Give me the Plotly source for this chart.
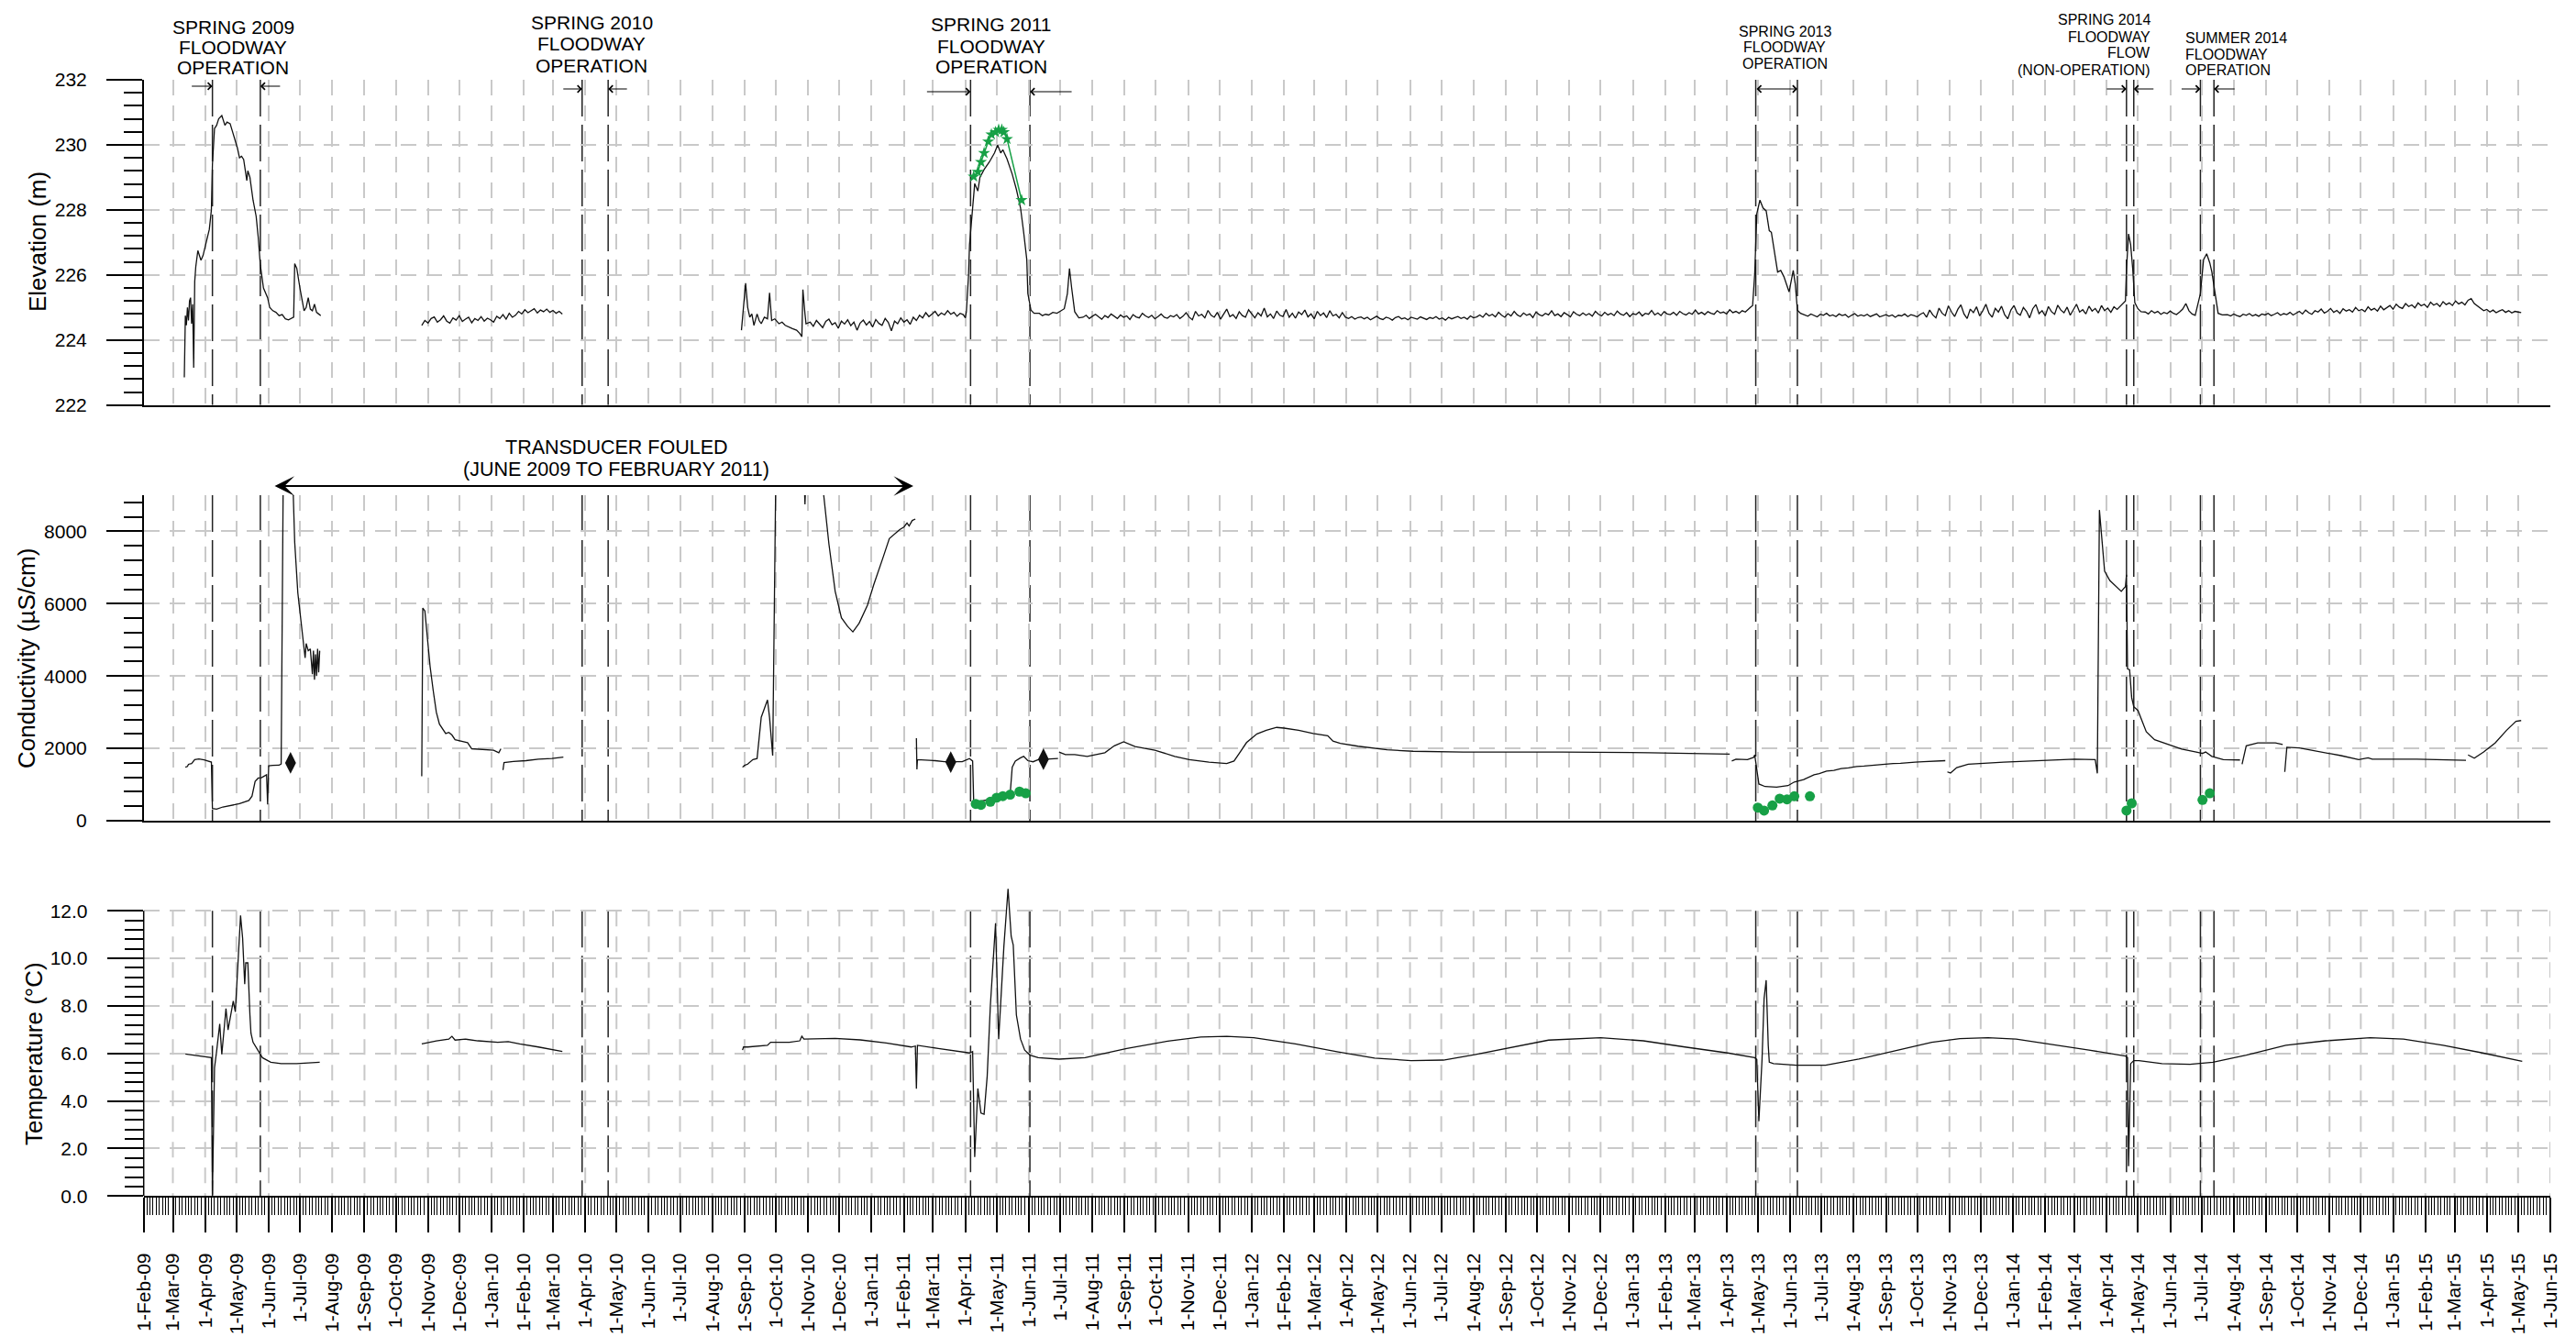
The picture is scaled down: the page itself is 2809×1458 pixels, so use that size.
import pandas as pd
import plotly.graph_objects as go

# ---------------------------------------------------------------- canvas
FIG_W, FIG_H = 2809, 1458
PLOT_L, PLOT_R = 156.7, 2781.0          # left / right edge of the plotting area (px)
FONT = "Liberation Sans, Arial, Helvetica, sans-serif"
INK = "#111111"
GREEN = "#17a046"
GRID = "#c9c9c9"
GRID_DASH = "17px,11px"
EVENT_DASH = "40px,9px"


def fx(p):
    return p / FIG_W


def fy(p):
    return 1.0 - p / FIG_H


# ---------------------------------------------------------------- floodway operation windows
event_starts = ["2009-04-08", "2010-03-29", "2011-04-06", "2013-04-29", "2014-04-20", "2014-06-30"]
event_ends = ["2009-05-24", "2010-04-23", "2011-06-02", "2013-06-08", "2014-04-27", "2014-07-13"]

# ---------------------------------------------------------------- elevation (m)
elev_2009_dates = ["2009-03-12", "2009-03-13", "2009-03-14", "2009-03-15", "2009-03-16", "2009-03-17",
                   "2009-03-18", "2009-03-19", "2009-03-20", "2009-03-21", "2009-03-22", "2009-03-23",
                   "2009-03-25", "2009-03-28", "2009-03-30", "2009-04-02", "2009-04-05", "2009-04-07",
                   "2009-04-08", "2009-04-10", "2009-04-12", "2009-04-14", "2009-04-17", "2009-04-20",
                   "2009-04-22", "2009-04-25", "2009-04-29", "2009-05-02", "2009-05-04", "2009-05-06",
                   "2009-05-08", "2009-05-11", "2009-05-12", "2009-05-14", "2009-05-17", "2009-05-20",
                   "2009-05-22", "2009-05-24", "2009-05-27", "2009-05-29", "2009-05-31", "2009-06-02",
                   "2009-06-05", "2009-06-08", "2009-06-11", "2009-06-14", "2009-06-17", "2009-06-20",
                   "2009-06-23", "2009-06-25", "2009-06-26", "2009-06-28", "2009-07-01", "2009-07-03",
                   "2009-07-05", "2009-07-07", "2009-07-09", "2009-07-11", "2009-07-13", "2009-07-15",
                   "2009-07-17", "2009-07-19", "2009-07-21"]
elev_2009 = [222.85, 224.75, 224.45, 225.0, 224.6, 225.2, 225.3, 224.5, 225.1, 223.15, 225.8, 226.25,
             226.75, 226.45, 226.6, 227.0, 227.4, 228.0, 229.4, 230.5, 230.6, 230.8, 230.9, 230.6,
             230.7, 230.65, 230.25, 229.9, 229.6, 229.65, 229.55, 228.9, 229.2, 229.0, 228.3, 227.8,
             227.15, 226.3, 225.6, 225.45, 225.3, 225.0, 224.9, 224.85, 224.75, 224.78, 224.65, 224.62,
             224.68, 224.7, 226.35, 226.2, 225.6, 225.3, 224.9, 225.0, 225.3, 224.95, 224.9, 225.1,
             224.85, 224.8, 224.75]

# logger readings every 3 days from 26-Oct-2009
elev_0910_start = "2009-10-26"
elev_0910 = [224.45, 224.60, 224.52, 224.66, 224.71, 224.55, 224.62, 224.74, 224.58, 224.52,
             224.68, 224.61, 224.75, 224.57, 224.64, 224.70, 224.53, 224.66, 224.60, 224.72,
             224.58, 224.67, 224.62, 224.55, 224.73, 224.66, 224.78, 224.64, 224.82, 224.70,
             224.76, 224.88, 224.80, 224.93, 224.84, 224.90, 224.96, 224.83, 224.92, 224.87,
             224.95, 224.85, 224.91, 224.82, 224.88, 224.80]

elev_fall10_dates = ["2010-08-29", "2010-09-02", "2010-09-04", "2010-09-06", "2010-09-08", "2010-09-10",
                     "2010-09-13", "2010-09-15", "2010-09-17", "2010-09-20", "2010-09-23", "2010-09-25",
                     "2010-09-27", "2010-09-30", "2010-10-04", "2010-10-07", "2010-10-10", "2010-10-13",
                     "2010-10-17", "2010-10-21", "2010-10-24", "2010-10-26", "2010-10-27", "2010-10-29",
                     "2010-10-30"]
elev_fall10 = [224.3, 225.75, 225.0, 224.7, 224.8, 224.45, 224.8, 224.6, 224.5, 224.7, 224.65, 225.45,
               224.6, 224.65, 224.5, 224.55, 224.45, 224.4, 224.35, 224.3, 224.2, 224.1, 225.55, 224.8,
               224.5]

elev_1011_start = "2010-11-03"       # every 3 days
elev_1011 = [224.55, 224.42, 224.60, 224.50, 224.38, 224.57, 224.64, 224.47, 224.53, 224.36,
             224.58, 224.49, 224.62, 224.44, 224.55, 224.30, 224.52, 224.61, 224.46, 224.57,
             224.40, 224.63, 224.51, 224.45, 224.66, 224.54, 224.28, 224.58, 224.50, 224.68,
             224.55, 224.62, 224.48, 224.70, 224.60, 224.76, 224.68, 224.84, 224.72, 224.80,
             224.88, 224.74, 224.83, 224.77, 224.90, 224.79, 224.85, 224.73, 224.82, 224.78]

elev_sp11_dates = ["2011-04-01", "2011-04-02", "2011-04-04", "2011-04-05", "2011-04-08", "2011-04-10",
                   "2011-04-13", "2011-04-15", "2011-04-19", "2011-04-24", "2011-04-29", "2011-05-02",
                   "2011-05-05", "2011-05-07", "2011-05-11", "2011-05-16", "2011-05-20", "2011-05-24",
                   "2011-05-27", "2011-05-30", "2011-05-31", "2011-06-03", "2011-06-06", "2011-06-11",
                   "2011-06-14", "2011-06-17", "2011-06-20", "2011-06-24", "2011-06-28", "2011-07-01",
                   "2011-07-05", "2011-07-08", "2011-07-10", "2011-07-12", "2011-07-15", "2011-07-19"]
elev_sp11 = [224.68, 224.87, 225.95, 226.93, 228.06, 228.81, 228.58, 229.0, 229.24, 229.47, 229.75, 229.99,
             229.75, 229.85, 229.57, 229.1, 228.63, 228.06, 227.31, 226.47, 225.43, 224.92, 224.82, 224.82,
             224.75, 224.79, 224.77, 224.85, 224.82, 224.87, 224.96, 225.43, 226.2, 225.62, 224.87, 224.68]

elev_1113_start = "2011-07-23"       # every 3 days
elev_1113 = [224.70, 224.76, 224.66, 224.73, 224.79, 224.71, 224.64, 224.75, 224.69, 224.80,
             224.72, 224.66, 224.77, 224.70, 224.74, 224.63, 224.78, 224.71, 224.68, 224.82,
             224.74, 224.69, 224.76, 224.65, 224.72, 224.80, 224.70, 224.67, 224.75, 224.71,
             224.78, 224.66, 224.73, 224.84, 224.70, 224.62, 224.88, 224.74, 224.79, 224.68,
             224.91, 224.76, 224.70, 224.85, 224.64, 224.80, 224.95, 224.72, 224.78, 224.66,
             224.87, 224.75, 224.70, 224.93, 224.79, 224.68, 224.84, 224.74, 224.98, 224.71,
             224.80, 224.66, 224.89, 224.76, 224.72, 224.94, 224.70, 224.82, 224.67, 224.86,
             224.78, 224.92, 224.71, 224.80, 224.65, 224.88, 224.75, 224.83, 224.69, 224.90,
             224.74, 224.79, 224.68, 224.84, 224.70, 224.66, 224.72, 224.64, 224.69, 224.71,
             224.65, 224.70, 224.62, 224.68, 224.73, 224.66, 224.63, 224.70, 224.67, 224.61,
             224.69, 224.72, 224.65, 224.68, 224.62, 224.70, 224.66, 224.64, 224.71, 224.67,
             224.63, 224.69, 224.66, 224.72, 224.64, 224.68, 224.61, 224.70, 224.65, 224.69,
             224.72, 224.66, 224.70, 224.64, 224.74, 224.68, 224.71, 224.77, 224.70, 224.82,
             224.74, 224.79, 224.71, 224.85, 224.76, 224.70, 224.81, 224.74, 224.88, 224.77,
             224.72, 224.83, 224.76, 224.80, 224.69, 224.86, 224.78, 224.74, 224.82, 224.77,
             224.90, 224.75, 224.80, 224.72, 224.84, 224.78, 224.71, 224.87, 224.79, 224.75,
             224.83, 224.76, 224.81, 224.73, 224.88, 224.79, 224.74, 224.85, 224.77, 224.82,
             224.75, 224.89, 224.80, 224.76, 224.84, 224.72, 224.81, 224.78, 224.86, 224.74,
             224.82, 224.79, 224.91, 224.77, 224.83, 224.75, 224.87, 224.80, 224.78, 224.85,
             224.76, 224.88, 224.81, 224.77, 224.84, 224.79, 224.92, 224.80, 224.85, 224.78,
             224.87, 224.82, 224.79, 224.90, 224.83, 224.86, 224.80, 224.93, 224.84, 224.88,
             224.82, 224.90, 224.86]

elev_sp13_dates = ["2013-04-24", "2013-04-26", "2013-04-28", "2013-04-30", "2013-05-03", "2013-05-06",
                   "2013-05-09", "2013-05-12", "2013-05-14", "2013-05-17", "2013-05-20", "2013-05-23",
                   "2013-05-26", "2013-05-31", "2013-06-04", "2013-06-06", "2013-06-08", "2013-06-11"]
elev_sp13 = [225.01, 225.06, 226.04, 227.88, 228.3, 228.06, 227.97, 227.36, 227.31, 226.75, 226.09, 226.14,
             225.95, 225.48, 226.14, 225.71, 224.92, 224.82]

elev_1314_start = "2013-06-15"       # every 3 days
elev_1314 = [224.78, 224.73, 224.80, 224.75, 224.71, 224.79, 224.76, 224.82, 224.74, 224.77,
             224.72, 224.80, 224.75, 224.78, 224.70, 224.76, 224.81, 224.73, 224.77, 224.74,
             224.79, 224.72, 224.76, 224.80, 224.71, 224.75, 224.78, 224.73, 224.77, 224.70,
             224.76, 224.74, 224.80, 224.72, 224.78, 224.75, 224.71, 224.79, 224.84, 224.70,
             224.92, 224.77, 224.68, 224.98, 224.82, 224.75, 225.05, 224.86, 224.72, 224.94,
             225.08, 224.80, 224.66, 224.95, 224.84, 225.02, 224.74, 224.90, 225.10, 224.82,
             224.70, 224.97, 224.86, 225.04, 224.78, 224.65, 224.92, 225.06, 224.83, 224.76,
             225.00, 224.88, 224.68, 224.96, 225.09, 224.81, 224.90, 224.74, 225.03, 224.87,
             224.79, 225.07, 224.92, 224.84, 225.01, 224.76, 224.95, 225.10, 224.86, 224.93,
             224.80, 225.04, 224.89, 224.97, 224.83, 225.06, 224.90, 224.98, 224.85, 225.02,
             224.94]

elev_sp14_dates = ["2014-04-16", "2014-04-19", "2014-04-20", "2014-04-22", "2014-04-24", "2014-04-26",
                   "2014-04-28", "2014-05-01", "2014-05-04"]
elev_sp14 = [225.1, 225.2, 226.18, 227.26, 226.93, 226.18, 225.15, 224.96, 224.87]

elev_jun14_start = "2014-05-08"      # every 3 days
elev_jun14 = [224.86, 224.80, 224.90, 224.83, 224.88, 224.79, 224.85, 224.81, 224.89, 224.82, 224.78,
              224.86, 224.95, 225.12, 224.90, 224.80, 224.76]

elev_su14_dates = ["2014-06-30", "2014-07-03", "2014-07-06", "2014-07-09", "2014-07-11", "2014-07-14",
                   "2014-07-17", "2014-07-21"]
elev_su14 = [225.43, 226.47, 226.65, 226.37, 226.09, 225.43, 224.82, 224.77]

elev_1415_start = "2014-07-26"       # every 3 days
elev_1415 = [224.78, 224.74, 224.80, 224.75, 224.72, 224.79, 224.76, 224.81, 224.74, 224.78,
             224.73, 224.80, 224.77, 224.82, 224.75, 224.79, 224.84, 224.76, 224.81, 224.78,
             224.85, 224.77, 224.82, 224.88, 224.80, 224.92, 224.84, 224.79, 224.90, 224.86,
             224.95, 224.83, 224.88, 224.97, 224.85, 224.91, 224.82, 224.96, 224.89, 224.93,
             224.86, 225.00, 224.90, 224.94, 224.87, 225.02, 224.92, 224.97, 224.89, 225.04,
             224.93, 224.99, 225.06, 224.95, 225.10, 225.01, 224.97, 225.12, 225.03, 225.08,
             224.99, 225.14, 225.05, 225.10, 225.00, 225.16, 225.07, 225.12, 225.03, 225.18,
             225.09, 225.14, 225.06, 225.20, 225.11, 225.16, 225.08, 225.22, 225.27, 225.12,
             225.04, 224.96, 224.90, 224.94, 224.86, 224.92, 224.84, 224.89, 224.93, 224.85,
             224.90, 224.83, 224.88, 224.86, 224.84]

# manual water-level measurements, spring 2011
manual_elev_dates = ["2011-04-09", "2011-04-13", "2011-04-16", "2011-04-19", "2011-04-23", "2011-04-26",
                     "2011-04-30", "2011-05-03", "2011-05-06", "2011-05-08", "2011-05-11", "2011-05-25"]
manual_elev = [229.02, 229.17, 229.47, 229.75, 230.1, 230.32, 230.39, 230.46, 230.46, 230.39, 230.18, 228.3]

# ---------------------------------------------------------------- conductivity (uS/cm)
cond_09_dates = ["2009-03-13", "2009-03-15", "2009-03-16", "2009-03-19", "2009-03-22", "2009-03-26",
                 "2009-03-31", "2009-04-05", "2009-04-07", "2009-04-08", "2009-04-12", "2009-04-18",
                 "2009-04-25", "2009-05-04", "2009-05-13", "2009-05-16", "2009-05-19", "2009-05-22",
                 "2009-05-25", "2009-05-28", "2009-05-30", "2009-05-31", "2009-06-01", "2009-06-05",
                 "2009-06-11", "2009-06-13", "2009-06-15", "2009-06-24", "2009-06-25", "2009-06-26",
                 "2009-06-29", "2009-07-01", "2009-07-04", "2009-07-06", "2009-07-07", "2009-07-09",
                 "2009-07-11", "2009-07-13", "2009-07-14", "2009-07-15", "2009-07-16", "2009-07-17",
                 "2009-07-18", "2009-07-19", "2009-07-20"]
cond_09 = [1480, 1500, 1560, 1580, 1690, 1710, 1680, 1640, 1620, 340,
           320, 380, 420, 470, 560, 680, 1090, 1180, 1190, 1250,
           1270, 450, 1520, 1530, 1535, 1570, 9600, 9600, 8200, 7700,
           6300, 5800, 5100, 4500, 4900, 4700, 4750, 4050, 4700, 3900,
           4600, 4000, 4750, 4100, 4700]

cond_0910_dates = ["2009-10-26", "2009-10-27", "2009-10-29", "2009-11-01", "2009-11-03", "2009-11-06",
                   "2009-11-09", "2009-11-12", "2009-11-18", "2009-11-21", "2009-11-24", "2009-11-27",
                   "2009-12-03", "2009-12-09", "2009-12-13", "2009-12-22", "2010-01-03", "2010-01-08",
                   "2010-01-10"]
cond_0910 = [1230, 5880, 5800, 4780, 4270, 3600, 3000, 2670, 2410, 2440, 2370, 2240, 2200, 2160, 1990,
             1975, 1950, 1880, 1990]

cond_10_dates = ["2010-01-12", "2010-01-13", "2010-01-22", "2010-02-03", "2010-02-15", "2010-02-28", "2010-03-11"]
cond_10 = [1400, 1610, 1640, 1660, 1700, 1720, 1760]

cond_1011_dates = ["2010-08-30", "2010-09-01", "2010-09-04", "2010-09-09", "2010-09-13", "2010-09-17",
                   "2010-09-20", "2010-09-23", "2010-09-25", "2010-09-28", "2010-10-01", "2010-10-28",
                   "2010-10-29", "2010-10-30", "2010-11-15", "2010-11-16", "2010-11-21", "2010-11-27",
                   "2010-12-03", "2010-12-09", "2010-12-14", "2010-12-20", "2010-12-28", "2011-01-03",
                   "2011-01-12", "2011-01-18", "2011-01-28", "2011-02-01", "2011-02-04", "2011-02-06",
                   "2011-02-09", "2011-02-12"]
cond_1011 = [1480, 1530, 1565, 1690, 1720, 2860, 3100, 3340, 2850, 1800, 9600, 9600,
             8750, 9600, 9600, 9000, 7650, 6340, 5610, 5370, 5220, 5460, 5960, 6520,
             7280, 7800, 8050, 8120, 8230, 8150, 8300, 8340]

cond_11_dates = ["2011-02-13 00:00", "2011-02-13 12:00", "2011-02-14", "2011-03-03", "2011-03-12",
                 "2011-03-29", "2011-04-03", "2011-04-05", "2011-04-08", "2011-04-09", "2011-04-13",
                 "2011-04-25", "2011-05-07", "2011-05-14", "2011-05-16", "2011-05-19", "2011-05-24",
                 "2011-05-27", "2011-05-31", "2011-06-05", "2011-06-10", "2011-06-21", "2011-06-29"]
cond_11 = [2280, 1420, 1690, 1660, 1630, 1630, 1690, 1720, 1650, 560, 520, 600, 640, 720, 1480, 1650,
           1740, 1780, 1660, 1630, 1690, 1710, 1720]

cond_1113_dates = ["2011-06-30", "2011-07-06", "2011-07-15", "2011-07-27", "2011-08-13", "2011-08-22",
                   "2011-08-31", "2011-09-11", "2011-09-30", "2011-10-19", "2011-11-02", "2011-11-21",
                   "2011-12-08", "2011-12-15", "2011-12-20", "2011-12-27", "2012-01-06", "2012-01-15",
                   "2012-01-25", "2012-02-01", "2012-02-15", "2012-02-29", "2012-03-14", "2012-03-19",
                   "2012-03-26", "2012-04-12", "2012-05-10", "2012-06-04", "2012-07-22", "2012-10-25",
                   "2013-01-17", "2013-03-02", "2013-04-04"]
cond_1113 = [1900, 1830, 1830, 1780, 1880, 2070, 2180, 2050, 1950, 1780, 1690, 1620, 1580, 1650, 1860,
             2160, 2400, 2500, 2580, 2560, 2500, 2410, 2350, 2200, 2140, 2060, 1960, 1920, 1900, 1900,
             1880, 1860, 1840]

cond_13_dates = ["2013-04-06", "2013-04-10", "2013-04-21", "2013-04-27", "2013-04-28", "2013-05-02",
                 "2013-05-08", "2013-05-19", "2013-05-30", "2013-06-05", "2013-06-14", "2013-06-19",
                 "2013-06-24", "2013-06-29", "2013-07-06", "2013-07-13", "2013-07-20", "2013-07-27",
                 "2013-08-04", "2013-08-11", "2013-08-18", "2013-08-25", "2013-09-01", "2013-09-08",
                 "2013-09-15", "2013-09-22", "2013-09-29", "2013-10-07", "2013-10-14", "2013-10-21",
                 "2013-10-28"]
cond_13 = [1650, 1700, 1690, 1750, 1820, 1015, 945, 930, 970, 1070, 1140, 1210, 1270, 1300, 1370, 1390,
           1440, 1460, 1500, 1510, 1530, 1550, 1560, 1580, 1590, 1610, 1620, 1630, 1640, 1650, 1660]

cond_1314_dates = ["2013-10-30", "2013-11-02", "2013-11-08", "2013-11-19", "2013-12-23", "2014-02-07",
                   "2014-03-01", "2014-03-21", "2014-03-23", "2014-03-25", "2014-03-27", "2014-03-30",
                   "2014-04-04", "2014-04-10", "2014-04-15", "2014-04-19", "2014-04-20", "2014-04-21",
                   "2014-04-23", "2014-04-25", "2014-04-27", "2014-05-01", "2014-05-09", "2014-05-17",
                   "2014-05-31", "2014-06-12", "2014-06-26", "2014-07-02", "2014-07-05", "2014-07-11",
                   "2014-07-22", "2014-08-07"]
cond_1314 = [1350, 1320, 1470, 1560, 1620, 1680, 1700, 1690, 1310, 8590, 7830, 6900, 6640, 6470, 6340,
             6470, 6800, 4200, 4170, 3400, 3150, 3050, 2460, 2240, 2110, 1980, 1900, 1860, 1900, 1780,
             1690, 1680]

cond_aug14_dates = ["2014-08-09", "2014-08-13", "2014-08-24", "2014-09-10", "2014-09-17"]
cond_aug14 = [1560, 2070, 2150, 2150, 2110]

cond_1415_dates = ["2014-09-19", "2014-09-21", "2014-10-03", "2014-10-20", "2014-11-12", "2014-11-29",
                   "2014-12-08", "2014-12-12", "2015-01-24", "2015-03-12"]
cond_1415 = [1350, 2030, 2010, 1920, 1800, 1690, 1740, 1700, 1700, 1670]

cond_15_dates = ["2015-03-14", "2015-03-20", "2015-03-29", "2015-04-09", "2015-04-20", "2015-04-29", "2015-05-04"]
cond_15 = [1820, 1730, 1900, 2150, 2500, 2750, 2770]

# grab samples during floodway operation
grab_dates = ["2011-04-11", "2011-04-16", "2011-04-25", "2011-05-01", "2011-05-07", "2011-05-14",
              "2011-05-23", "2011-05-29", "2013-05-01", "2013-05-07", "2013-05-15", "2013-05-22",
              "2013-05-29", "2013-06-05", "2013-06-20", "2014-04-20", "2014-04-25", "2014-07-02",
              "2014-07-09"]
grab_cond = [465, 440, 525, 635, 680, 720, 805, 760, 364, 280, 423, 609, 592, 677, 677, 280, 482, 575, 760]

# field-meter checks
check_dates = ["2009-06-22", "2011-03-18", "2011-06-15"]
check_cond = [1600, 1620, 1700]

# ---------------------------------------------------------------- temperature (deg C)
temp_09_dates = ["2009-03-13", "2009-03-20", "2009-03-27", "2009-04-03", "2009-04-07", "2009-04-08",
                 "2009-04-10", "2009-04-12", "2009-04-15", "2009-04-17", "2009-04-19", "2009-04-21",
                 "2009-04-23", "2009-04-25", "2009-04-28", "2009-04-30", "2009-05-03", "2009-05-05",
                 "2009-05-07", "2009-05-09", "2009-05-10", "2009-05-12", "2009-05-14", "2009-05-15",
                 "2009-05-17", "2009-05-22", "2009-05-26", "2009-06-03", "2009-06-13", "2009-06-28",
                 "2009-07-11", "2009-07-20"]
temp_09 = [5.98, 5.93, 5.88, 5.82, 5.82, 0.05, 5.4, 6.08, 7.24, 5.96, 6.86, 7.89, 6.99, 7.5, 8.2, 7.75,
           10.2, 11.8, 10.84, 8.91, 9.81, 9.81, 7.62, 6.85, 6.47, 6.08, 5.82, 5.63, 5.57, 5.57, 5.59, 5.63]

temp_0910_dates = ["2009-10-26", "2009-11-09", "2009-11-21", "2009-11-24", "2009-11-27", "2009-12-07",
                   "2009-12-19", "2010-01-07", "2010-01-17", "2010-01-28", "2010-02-15", "2010-03-10"]
temp_0910 = [6.4, 6.53, 6.6, 6.72, 6.56, 6.6, 6.53, 6.47, 6.5, 6.4, 6.27, 6.08]

temp_1015_dates = ["2010-08-30", "2010-08-31", "2010-09-04", "2010-09-23", "2010-09-26", "2010-10-14",
                   "2010-10-24", "2010-10-26", "2010-10-28", "2010-11-27", "2010-12-21", "2011-01-15",
                   "2011-02-08", "2011-02-12", "2011-02-13", "2011-02-14", "2011-03-06", "2011-03-31",
                   "2011-04-05", "2011-04-08", "2011-04-10", "2011-04-13", "2011-04-16", "2011-04-19",
                   "2011-04-22", "2011-04-25", "2011-04-30", "2011-05-03", "2011-05-08", "2011-05-12",
                   "2011-05-15", "2011-05-17", "2011-05-20", "2011-05-24", "2011-05-28", "2011-06-02",
                   "2011-06-10", "2011-06-30", "2011-07-25", "2011-09-03", "2011-10-14", "2011-11-13",
                   "2011-12-08", "2012-01-03", "2012-02-12", "2012-03-24", "2012-04-28", "2012-06-02",
                   "2012-07-03", "2012-08-02", "2012-09-01", "2012-10-12", "2012-12-01", "2013-01-11",
                   "2013-02-20", "2013-04-02", "2013-04-28", "2013-04-30", "2013-05-02", "2013-05-05",
                   "2013-05-07", "2013-05-09", "2013-05-11", "2013-05-12", "2013-05-16", "2013-06-07",
                   "2013-07-05", "2013-08-06", "2013-09-07", "2013-10-15", "2013-11-11", "2013-12-08",
                   "2014-01-04", "2014-02-05", "2014-03-15", "2014-04-19", "2014-04-21", "2014-04-22",
                   "2014-04-24", "2014-04-27", "2014-05-02", "2014-05-24", "2014-06-20", "2014-07-12",
                   "2014-08-13", "2014-09-20", "2014-10-28", "2014-12-10", "2015-01-11", "2015-02-18",
                   "2015-03-28", "2015-05-05"]
temp_1015 = [6.14, 6.27, 6.27, 6.34, 6.47, 6.47, 6.53, 6.72, 6.6, 6.63, 6.57, 6.44,
             6.27, 6.31, 4.52, 6.34, 6.21, 6.06, 6.02, 6.08, 1.64, 4.52, 3.49, 3.44,
             5.05, 8.0, 11.48, 6.6, 10.5, 12.92, 10.93, 10.56, 7.62, 6.6, 6.14, 5.93,
             5.82, 5.76, 5.82, 6.21, 6.53, 6.69, 6.72, 6.66, 6.4, 6.06, 5.8, 5.7,
             5.72, 5.95, 6.21, 6.56, 6.66, 6.53, 6.27, 6.02, 5.82, 5.75, 3.15, 5.7,
             8.3, 9.08, 6.34, 5.63, 5.57, 5.5, 5.5, 5.76, 6.08, 6.47, 6.62, 6.66,
             6.6, 6.4, 6.14, 5.89, 5.82, 1.26, 5.57, 5.7, 5.7, 5.57, 5.54, 5.63,
             5.93, 6.34, 6.53, 6.66, 6.6, 6.34, 6.02, 5.67]

# ---------------------------------------------------------------- axis ticks
temp_ticks = [0, 2, 4, 6, 8, 10, 12]
x_start, x_end = "2009-02-01", "2015-06-01"


# ---------------------------------------------------------------- helpers
def regular(start, step_days, values):
    dates = pd.date_range(start, periods=len(values), freq=f"{step_days}D")
    return [d.strftime("%Y-%m-%d") for d in dates], list(values)


def chain(*parts):
    xs, ys = [], []
    for d, v in parts:
        assert len(d) == len(v), (len(d), len(v))
        xs += list(d)
        ys += list(v)
    return xs, ys


def with_gaps(*parts):
    xs, ys = [], []
    for i, (d, v) in enumerate(parts):
        assert len(d) == len(v), (len(d), len(v))
        if i:
            xs.append(None)
            ys.append(None)
        xs += list(d)
        ys += list(v)
    return xs, ys


elev_x, elev_y = with_gaps(
    (elev_2009_dates, elev_2009),
    regular(elev_0910_start, 3, elev_0910),
    chain((elev_fall10_dates, elev_fall10),
          regular(elev_1011_start, 3, elev_1011),
          (elev_sp11_dates, elev_sp11),
          regular(elev_1113_start, 3, elev_1113),
          (elev_sp13_dates, elev_sp13),
          regular(elev_1314_start, 3, elev_1314),
          (elev_sp14_dates, elev_sp14),
          regular(elev_jun14_start, 3, elev_jun14),
          (elev_su14_dates, elev_su14),
          regular(elev_1415_start, 3, elev_1415)),
)

cond_x, cond_y = with_gaps(
    (cond_09_dates, cond_09), (cond_0910_dates, cond_0910), (cond_10_dates, cond_10),
    (cond_1011_dates, cond_1011), (cond_11_dates, cond_11), (cond_1113_dates, cond_1113),
    (cond_13_dates, cond_13), (cond_1314_dates, cond_1314), (cond_aug14_dates, cond_aug14),
    (cond_1415_dates, cond_1415), (cond_15_dates, cond_15),
)

temp_x, temp_y = with_gaps(
    (temp_09_dates, temp_09), (temp_0910_dates, temp_0910), (temp_1015_dates, temp_1015),
)

# ---------------------------------------------------------------- figure
fig = go.Figure()
line_style = dict(color=INK, width=1.3)

fig.add_trace(go.Scatter(x=elev_x, y=elev_y, mode="lines", line=line_style,
                         connectgaps=False, xaxis="x", yaxis="y", hoverinfo="skip"))
fig.add_trace(go.Scatter(x=manual_elev_dates, y=manual_elev, mode="lines+markers",
                         line=dict(color=GREEN, width=1.5),
                         marker=dict(symbol="star", size=10, color=GREEN),
                         xaxis="x", yaxis="y", hoverinfo="skip"))

fig.add_trace(go.Scatter(x=cond_x, y=cond_y, mode="lines", line=line_style,
                         connectgaps=False, xaxis="x2", yaxis="y2", hoverinfo="skip"))
fig.add_trace(go.Scatter(x=grab_dates, y=grab_cond, mode="markers",
                         marker=dict(symbol="circle", size=11, color=GREEN),
                         xaxis="x2", yaxis="y2", hoverinfo="skip"))
fig.add_trace(go.Scatter(x=check_dates, y=check_cond, mode="markers",
                         marker=dict(symbol="diamond-tall", size=17, color=INK),
                         xaxis="x2", yaxis="y2", hoverinfo="skip"))

fig.add_trace(go.Scatter(x=temp_x, y=temp_y, mode="lines", line=line_style,
                         connectgaps=False, xaxis="x3", yaxis="y3", hoverinfo="skip"))

# ---------------------------------------------------------------- axes
x_dom = [fx(PLOT_L), fx(PLOT_R)]
TOP = (87.0, 441.7)
MID = (540.0, 895.0)
BOT = (964.7, 1304.3)

base_x = dict(type="date", range=[x_start, x_end], domain=x_dom, tickmode="linear",
              tick0=x_start, dtick="M1", showgrid=True, gridcolor=GRID, gridwidth=2,
              griddash=GRID_DASH, showline=True, linecolor="black", linewidth=1.5,
              zeroline=False, fixedrange=True, automargin=False)

minor_x = []
for m in pd.date_range(x_start, "2015-05-01", freq="MS"):
    for d in range(3, m.days_in_month - 2, 3):
        minor_x.append((m + pd.Timedelta(days=d)).strftime("%Y-%m-%d"))

base_y = dict(ticks="outside", ticklen=39, tickwidth=1.5, tickcolor="black",
              showgrid=True, gridcolor=GRID, gridwidth=2, griddash=GRID_DASH,
              zeroline=False, tickfont=dict(size=21), ticklabelstandoff=17, fixedrange=True,
              automargin=False)
minor_y = dict(ticks="outside", ticklen=20, tickwidth=1.5, tickcolor="black", showgrid=False)

temp_minor = [round(0.4 * i, 1) for i in range(1, 30) if i % 5]

fig.update_layout(
    width=FIG_W, height=FIG_H, autosize=False,
    margin=dict(l=0, r=0, t=0, b=0, autoexpand=False),
    paper_bgcolor="white", plot_bgcolor="white",
    showlegend=False,
    font=dict(family=FONT, color="black", size=21),
    xaxis=dict(base_x, anchor="y", ticks="", showticklabels=False),
    xaxis2=dict(base_x, anchor="y2", ticks="", showticklabels=False),
    xaxis3=dict(base_x, anchor="y3", showgrid=False, ticks="outside", ticklen=38,
                tickwidth=1.5, tickcolor="black", tickangle=-90, tickformat="%-d-%b-%y",
                tickfont=dict(size=21), ticklabelstandoff=14,
                minor=dict(tickmode="array", tickvals=minor_x, ticks="outside", ticklen=19,
                           tickwidth=1.2, tickcolor="black", showgrid=False)),
    yaxis=dict(base_y, domain=[fy(TOP[1]), fy(TOP[0])], anchor="x", range=[222, 232],
               tickmode="linear", tick0=222, dtick=2, showline=True, linecolor="black", linewidth=1.5,
               minor=dict(minor_y, tickmode="linear", tick0=222, dtick=0.4)),
    yaxis2=dict(base_y, domain=[fy(MID[1]), fy(MID[0])], anchor="x2", range=[0, 9000],
                tickmode="linear", tick0=0, dtick=2000, showline=True, linecolor="black", linewidth=1.5,
                minor=dict(minor_y, tickmode="linear", tick0=0, dtick=400)),
    yaxis3=dict(base_y, domain=[fy(BOT[1]), fy(BOT[0])], anchor="x3", range=[0, 13.1],
                tickmode="array", tickvals=temp_ticks, tickformat=".1f", showline=False,
                minor=dict(minor_y, tickmode="array", tickvals=temp_minor)),
)

shapes = []
# month grid of the temperature panel stops at the 12.0 line
for m in pd.date_range("2009-03-01", x_end, freq="MS"):
    shapes.append(dict(type="line", xref="x3", yref="y3", x0=m, x1=m, y0=12, y1=0,
                       line=dict(color=GRID, width=2, dash=GRID_DASH), layer="below"))
shapes.append(dict(type="line", xref="paper", yref="y3", x0=fx(PLOT_L), x1=fx(PLOT_L), y0=0, y1=12,
                   line=dict(color="black", width=1.5)))

# floodway operation boundaries in every panel
for d in event_starts + event_ends:
    for xr, yr, top, bottom in (("x", "y", 232, 222), ("x2", "y2", 9000, 0), ("x3", "y3", 12, 0)):
        shapes.append(dict(type="line", xref=xr, yref=yr, x0=d, x1=d, y0=top, y1=bottom,
                           line=dict(color="#222222", width=1.5, dash=EVENT_DASH), layer="below"))
fig.update_layout(shapes=shapes)

# ---------------------------------------------------------------- annotations
ann = []


def text_line(txt, x, y, size, anchor="center"):
    ann.append(dict(text=txt, xref="paper", yref="paper", x=fx(x), y=fy(y), xanchor=anchor,
                    yanchor="middle", showarrow=False, font=dict(family=FONT, size=size, color="black")))


def arrow(date, y, dx):
    ann.append(dict(text="", xref="x", yref="paper", x=date, y=fy(y), ax=dx, ay=0,
                    showarrow=True, arrowhead=4, arrowsize=1.25, arrowwidth=1.2, arrowcolor="black",
                    standoff=0))


for t, yy in zip(["SPRING 2009", "FLOODWAY", "OPERATION"], [29, 51.5, 74]):
    text_line(t, 254, yy, 21)
for t, yy in zip(["SPRING 2010", "FLOODWAY", "OPERATION"], [24, 47.5, 71]):
    text_line(t, 645, yy, 21)
for t, yy in zip(["SPRING 2011", "FLOODWAY", "OPERATION"], [27, 50, 73]):
    text_line(t, 1081, yy, 21)
for t, yy in zip(["SPRING 2013", "FLOODWAY", "OPERATION"], [34.5, 51.5, 69.5]):
    text_line(t, 1946, yy, 16)
for t, yy in zip(["SPRING 2014", "FLOODWAY", "FLOW", "(NON-OPERATION)"], [22, 40, 57.5, 76]):
    text_line(t, 2347, yy, 16, anchor="right")
for t, yy in zip(["SUMMER 2014", "FLOODWAY", "OPERATION"], [41, 59, 76]):
    text_line(t, 2381, yy, 16, anchor="left")

arrow(event_starts[0], 94, -24)
arrow(event_ends[0], 94, 23)
arrow(event_starts[1], 97, -22)
arrow(event_ends[1], 97, 22)
arrow(event_starts[2], 100, -49)
arrow(event_ends[2], 100, 47)
arrow(event_starts[4], 97, -23)
arrow(event_ends[4], 97, 23)
arrow(event_starts[5], 97, -22)
arrow(event_ends[5], 97, 24)
ann.append(dict(text="", xref="x", yref="paper", x=event_ends[3], y=fy(97), ax=-46, ay=0,
                showarrow=True, arrowside="end+start", arrowhead=4, startarrowhead=4,
                arrowsize=1.25, startarrowsize=1.25, arrowwidth=1.2, arrowcolor="black",
                standoff=0, startstandoff=0))

# sensor-fouling period on the conductivity record
text_line("TRANSDUCER FOULED", 672, 488, 21.5)
text_line("(JUNE 2009 TO FEBRUARY 2011)", 672, 512, 21.5)
ann.append(dict(text="", xref="paper", yref="paper", x=fx(996), y=fy(530), ax=-698, ay=0,
                showarrow=True, arrowside="end+start", arrowhead=3, startarrowhead=3,
                arrowsize=1.8, startarrowsize=1.8, arrowwidth=2, arrowcolor="black",
                standoff=0, startstandoff=0))

# y-axis titles
for txt, xx, yy in (("Elevation (m)", 41, 264), ("Conductivity (\u00b5S/cm)", 29, 718),
                    ("Temperature (\u00b0C)", 37, 1149)):
    ann.append(dict(text=txt, xref="paper", yref="paper", x=fx(xx), y=fy(yy), textangle=-90,
                    xanchor="center", yanchor="middle", showarrow=False,
                    font=dict(family=FONT, size=26, color="black")))

fig.update_layout(annotations=ann)

fig.write_html("out.html")
